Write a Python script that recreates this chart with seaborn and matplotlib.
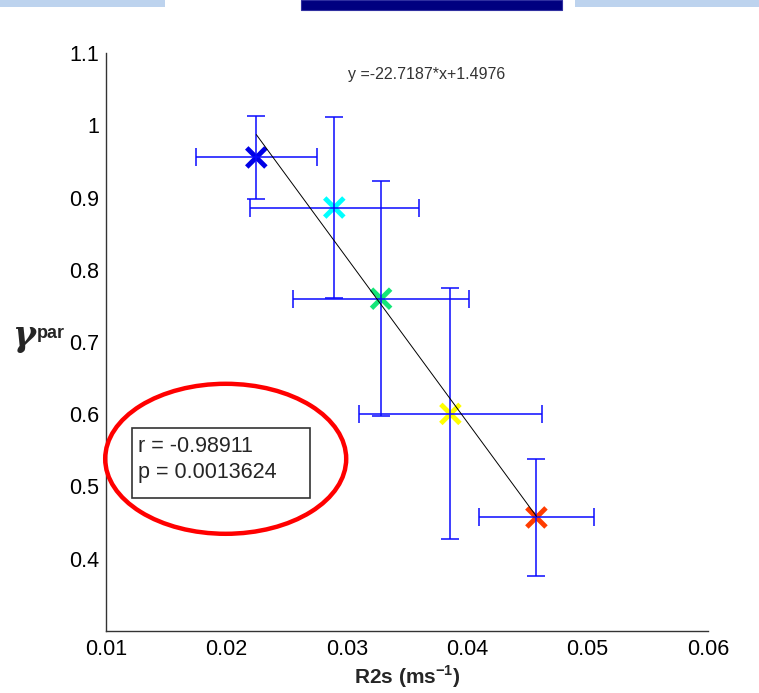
import numpy as np
import pandas as pd
import matplotlib
matplotlib.use("Agg")
import matplotlib.pyplot as plt
import seaborn as sns
from matplotlib.patches import Ellipse, Rectangle

# ---- data ----
groups = ["g1", "g2", "g3", "g4", "g5"]
r2s = [0.02246, 0.02894, 0.03283, 0.03859, 0.04574]
r2s_err = [0.00504, 0.00703, 0.00729, 0.00762, 0.00477]
gamma_par = [0.9557, 0.8863, 0.7600, 0.6004, 0.4569]
gamma_err = [0.0580, 0.1260, 0.1630, 0.1740, 0.0810]
marker_colors = ["#0000e6", "#00ffff", "#14e678", "#ffff00", "#ff3c00"]
fit_slope = -22.7187
fit_intercept = 1.4976
fit_label = "y =-22.7187*x+1.4976"
stats_lines = ["r = -0.98911", "p = 0.0013624"]
xticks = [0.01, 0.02, 0.03, 0.04, 0.05, 0.06]
yticks = [0.4, 0.5, 0.6, 0.7, 0.8, 0.9, 1.0, 1.1]
ytick_labels = ["0.4", "0.5", "0.6", "0.7", "0.8", "0.9", "1", "1.1"]

df = pd.DataFrame({"group": groups, "R2s": r2s, "gamma": gamma_par})

sns.set_theme(style="white")
plt.rcParams["font.family"] = ["Liberation Sans", "DejaVu Sans"]
plt.rcParams["mathtext.fontset"] = "custom"
plt.rcParams["mathtext.rm"] = "Liberation Sans"
plt.rcParams["mathtext.bf"] = "Liberation Sans:bold"

W, H = 759, 693
fig = plt.figure(figsize=(W / 100, H / 100), dpi=100)
ax = fig.add_axes([106.4 / W, 1 - 630.7 / H, (708 - 106.4) / W, (630.7 - 53.3) / H])

# markers
sns.scatterplot(data=df, x="R2s", y="gamma", hue="group", palette=marker_colors,
                marker="x", s=190, linewidth=3.5, legend=False, ax=ax, zorder=2)

# error bars
ax.errorbar(r2s, gamma_par, xerr=r2s_err, yerr=gamma_err, fmt="none",
            ecolor="#0a0aff", elinewidth=1.1, capsize=6.2, capthick=1.1, zorder=3)

# fit line
xf = np.array([min(r2s), max(r2s)])
ax.plot(xf, fit_slope * xf + fit_intercept, color="black", lw=0.7, zorder=4)

ax.set_xlim(0.01, 0.06)
ax.set_ylim(0.3, 1.1)
ax.set_xticks(xticks)
ax.set_xticklabels([f"{v:.2f}" for v in xticks])
ax.set_yticks(yticks)
ax.set_yticklabels(ytick_labels)

for s in ["top", "right"]:
    ax.spines[s].set_visible(False)
for s in ["left", "bottom"]:
    ax.spines[s].set_color("#333333")
    ax.spines[s].set_linewidth(1.0)
ax.tick_params(axis="both", direction="in", length=5, width=1, color="#333333",
               labelsize=15.5, labelcolor="black")
ax.tick_params(axis="x", pad=6)
ax.tick_params(axis="y", pad=5)
ax.set_xlabel("")
ax.set_ylabel("")

# x label
fig.text(407 / W, 1 - 677 / H, r"R2s (ms$^{\mathbf{-1}}$)", ha="center", va="center",
         fontsize=15, fontweight="bold")
# y label
fig.text(12 / W, 1 - 336 / H, "γ", ha="left", va="center", fontsize=25,
         style="italic", fontweight="bold", family=["DejaVu Serif"])
fig.text(37 / W, 1 - 334 / H, "par", ha="left", va="center", fontsize=13,
         fontweight="bold")

# fit equation
fig.text(427 / W, 1 - 74 / H, fit_label, ha="center", va="center", fontsize=11.5,
         color="#333333")

# stats box
fig.patches.append(Rectangle((131.7 / W, 1 - 497.7 / H), (310 - 131.7) / W,
                             (497.7 - 428.3) / H, transform=fig.transFigure,
                             fill=False, edgecolor="#333333", lw=1.2))
fig.text(138 / W, 1 - 446 / H, stats_lines[0], ha="left", va="center", fontsize=15.5)
fig.text(138 / W, 1 - 472.5 / H, stats_lines[1], ha="left", va="center", fontsize=15.5)

# red ellipse
fig.patches.append(Ellipse((225.7 / W, 1 - 458.8 / H), 241 / W, 150 / H,
                           transform=fig.transFigure, fill=False,
                           edgecolor="#ff0000", lw=3.2))

# decorative header bars
fig.patches.append(Rectangle((0, 1 - 6.8 / H), 164.6 / W, 6.8 / H,
                             transform=fig.transFigure, color="#bdd3ee", lw=0))
fig.patches.append(Rectangle((574.5 / W, 1 - 6.8 / H), (759 - 574.5) / W, 6.8 / H,
                             transform=fig.transFigure, color="#bdd3ee", lw=0))
fig.patches.append(Rectangle((301 / W, 1 - 9.7 / H), (562 - 301) / W, 9.7 / H,
                             transform=fig.transFigure, facecolor="#000080",
                             edgecolor="#3030a0", lw=0.8))

fig.savefig("out.png", dpi=100)
